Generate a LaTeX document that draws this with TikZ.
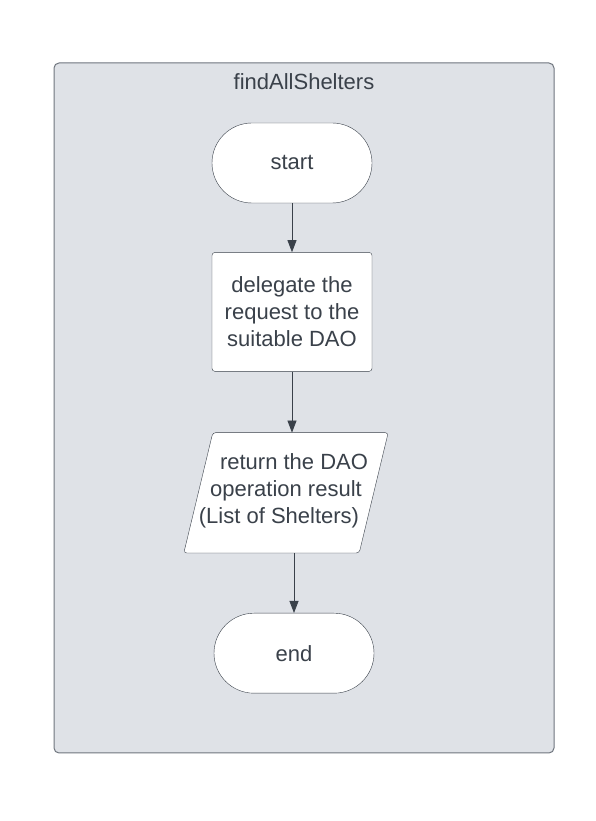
\documentclass[tikz,border=0pt]{standalone}
\usepackage{fontspec}
\setmainfont{Liberation Sans}
\usetikzlibrary{positioning,arrows.meta}
\definecolor{panelgray}{HTML}{DFE2E7}
\definecolor{framegray}{HTML}{6F757E}
\definecolor{inkgray}{HTML}{3A414A}
\tikzset{
  terminal/.style={draw=inkgray, fill=white, rounded corners=40pt, minimum width=160pt, minimum height=80pt, inner sep=0pt},
  process/.style={draw=inkgray, fill=white, rounded corners=3pt, minimum width=160pt, minimum height=119pt, inner sep=0pt, align=center},
  io/.style={minimum width=175pt, minimum height=120pt, inner sep=0pt, align=center},
  ioedge/.style={draw=inkgray, fill=white, rounded corners=3pt},
  flow/.style={draw=inkgray, line width=0.8pt, -{Triangle[width=9pt,length=12pt]}},
}

\begin{document}
\begin{tikzpicture}[x=1pt,y=1pt, font=\fontsize{22}{27}\selectfont, text=inkgray]
    \useasboundingbox (0,0) rectangle (595,821);
    % Frame
    \draw[framegray, fill=panelgray, rounded corners=5pt, line width=1pt] (54,68) rectangle (554,758);
    \node[anchor=base] (title) at (304,731) {findAllShelters} ; %
    % Nodes
    \node[terminal] (start) at (292,658) {start} ; %
    \node[process, below=49pt of start] (delegate) {delegate the\\request to the\\suitable DAO} ; %
    \node[io, below=61pt of delegate, xshift=-6pt] (result) {} ; %
    \draw[ioedge] ([xshift=14.5pt]result.north west) -- ([xshift=14.5pt]result.north east)
        -- ([xshift=-14.5pt]result.south east) -- ([xshift=-14.5pt]result.south west) -- cycle ;
    \node[io, yshift=2pt] (resulttext) at (result) {\hspace*{16pt}return the DAO\\operation result\\(List of Shelters)\hspace*{14pt}} ; %
    \node[terminal, below=60pt of result, xshift=8pt] (end) {end} ; %
    % Edges
    \draw[flow] (start) -- (delegate) ; %
    \draw[flow] (delegate) -- (delegate |- result.north) ; %
    \draw[flow] (end |- result.south) -- (end) ; %
\end{tikzpicture}
\end{document}
